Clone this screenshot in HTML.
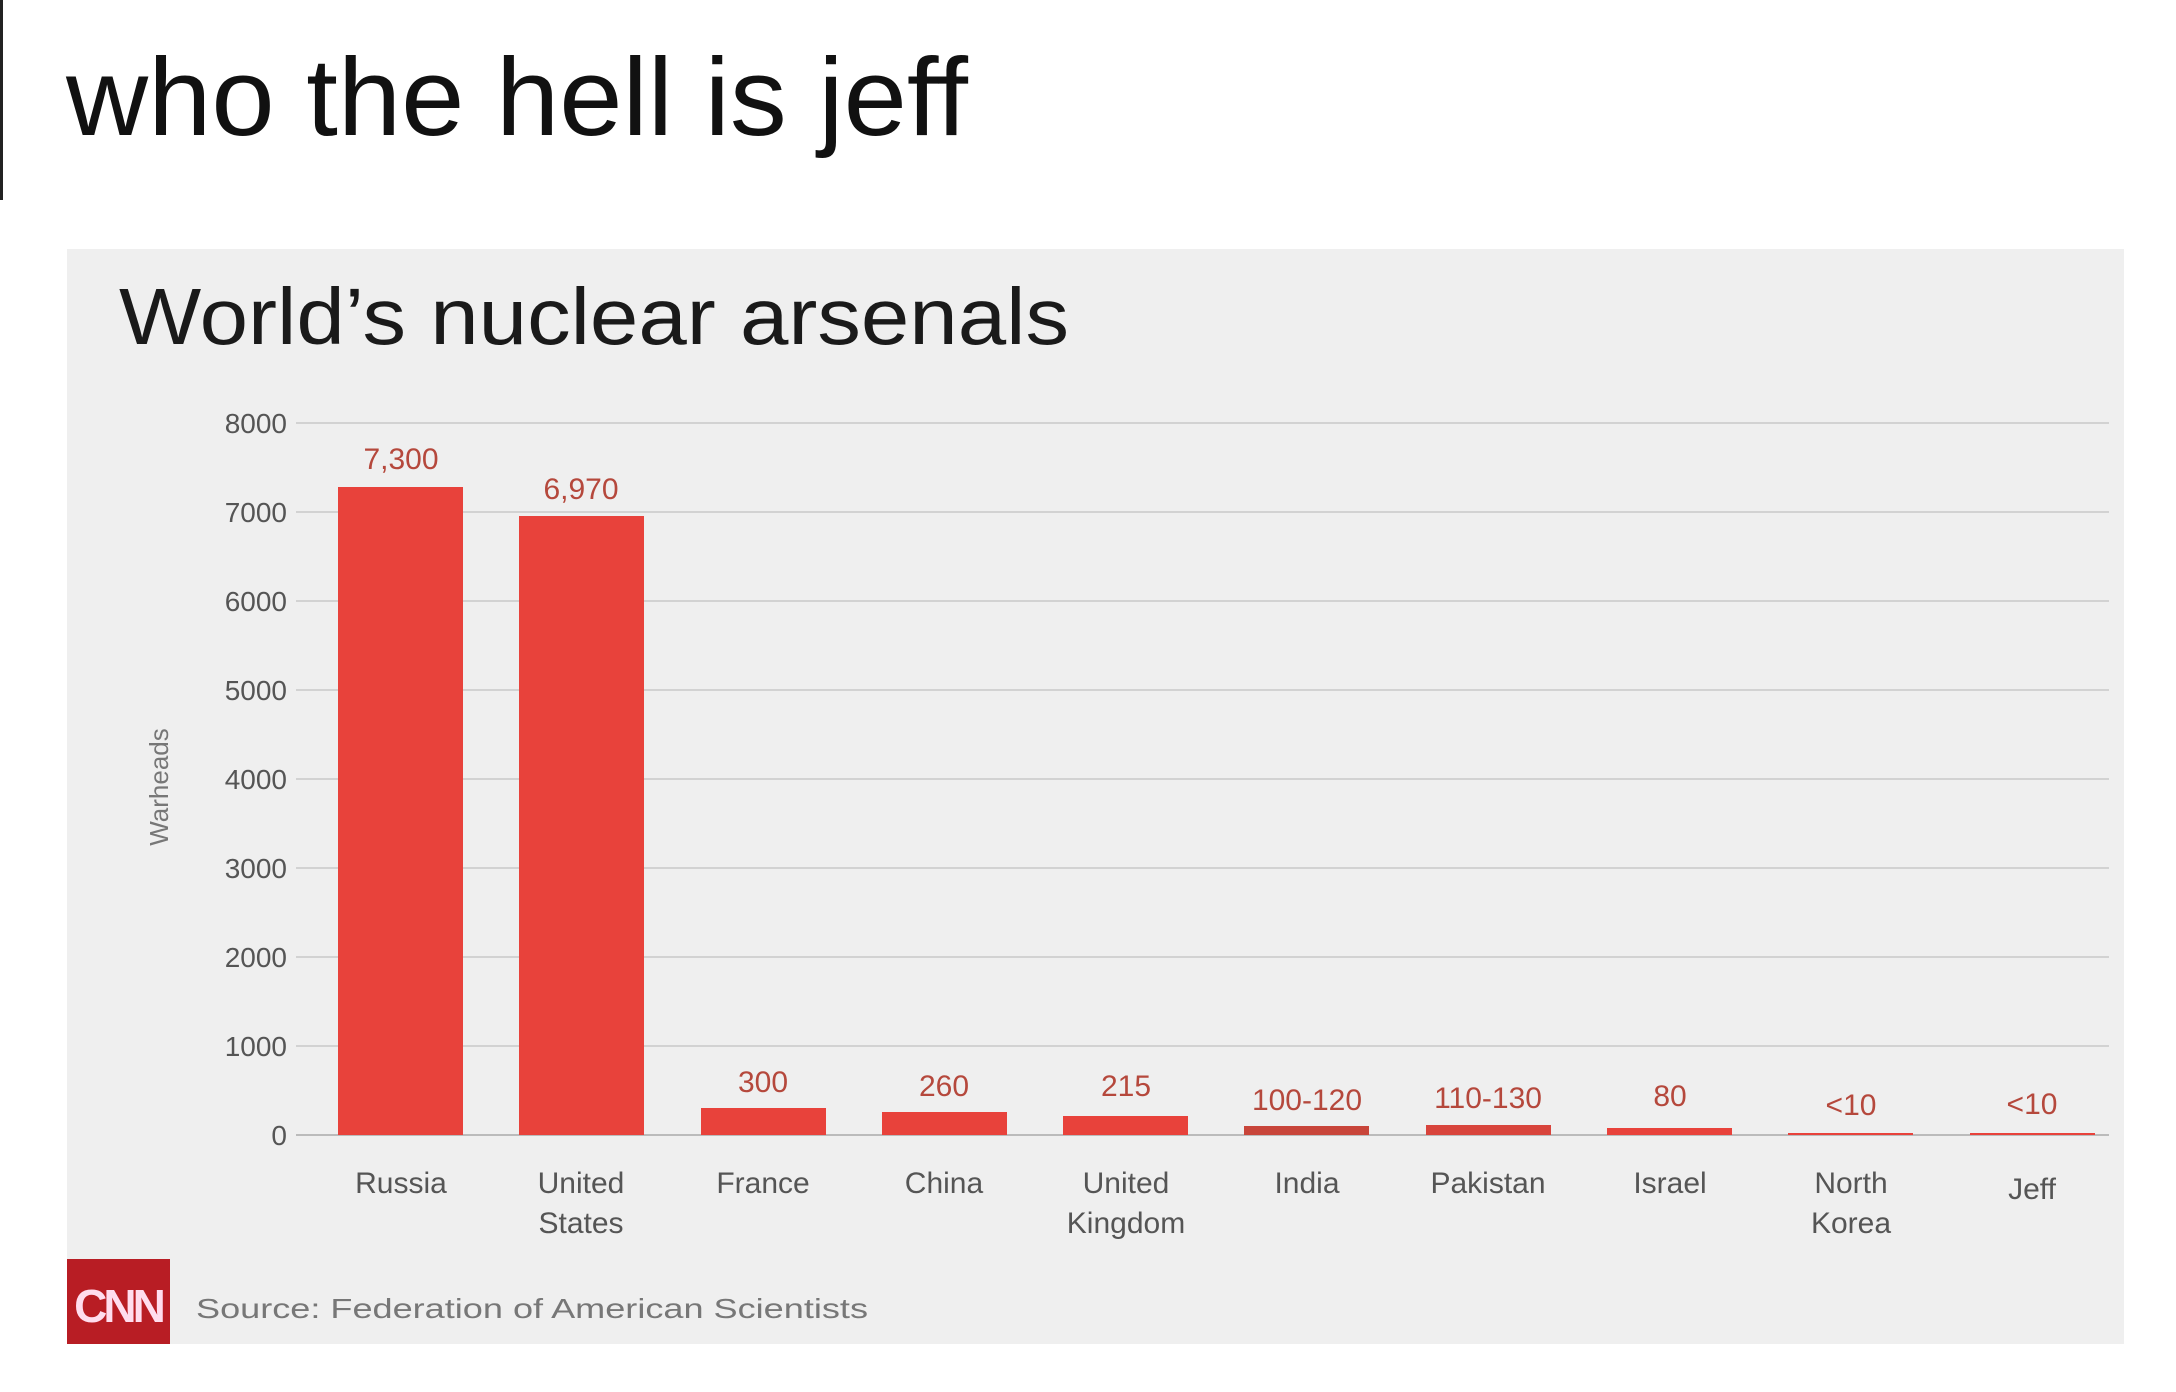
<!DOCTYPE html>
<html><head><meta charset="utf-8"><style>
html,body{margin:0;padding:0;background:#fff;}
svg{display:block;}
</style></head><body>
<svg width="2176" height="1392" viewBox="0 0 2176 1392" xmlns="http://www.w3.org/2000/svg" font-family="Liberation Sans, sans-serif">
<rect x="0" y="0" width="2176" height="1392" fill="#fff"/>
<rect x="0" y="0" width="3" height="200" fill="#222"/>
<text x="66" y="135" font-size="110" fill="#111" textLength="902" lengthAdjust="spacingAndGlyphs">who the hell is jeff</text>
<rect x="67" y="249" width="2057" height="1095" fill="#efefef"/>
<text x="119" y="344" font-size="80" fill="#1a1a1a" textLength="950" lengthAdjust="spacingAndGlyphs">World’s nuclear arsenals</text>
<g stroke="#d2d2d2" stroke-width="2">
<line x1="296" y1="423" x2="2109" y2="423"/>
<line x1="296" y1="512" x2="2109" y2="512"/>
<line x1="296" y1="601" x2="2109" y2="601"/>
<line x1="296" y1="690" x2="2109" y2="690"/>
<line x1="296" y1="779" x2="2109" y2="779"/>
<line x1="296" y1="868" x2="2109" y2="868"/>
<line x1="296" y1="957" x2="2109" y2="957"/>
<line x1="296" y1="1046" x2="2109" y2="1046"/>
<line x1="296" y1="1135" x2="2109" y2="1135" stroke="#bbb"/>
</g>
<g font-size="28" fill="#555" text-anchor="end">
<text x="287" y="433">8000</text><text x="287" y="522">7000</text><text x="287" y="611">6000</text>
<text x="287" y="700">5000</text><text x="287" y="789">4000</text><text x="287" y="878">3000</text>
<text x="287" y="967">2000</text><text x="287" y="1056">1000</text><text x="287" y="1145">0</text>
</g>
<text transform="translate(168,787) rotate(-90)" font-size="26" fill="#777" text-anchor="middle">Warheads</text>
<g fill="#e8423b">
<rect x="338" y="487" width="125" height="648"/>
<rect x="519" y="516" width="125" height="619"/>
<rect x="701" y="1108" width="125" height="27"/>
<rect x="882" y="1112" width="125" height="23"/>
<rect x="1063" y="1116" width="125" height="19"/>
<rect x="1244" y="1126" width="125" height="9" fill="#c8453a"/>
<rect x="1426" y="1125" width="125" height="10" fill="#d8443c"/>
<rect x="1607" y="1128" width="125" height="7"/>
<rect x="1788" y="1133" width="125" height="2"/>
<rect x="1970" y="1133" width="125" height="2"/>
</g>
<g font-size="30" fill="#b5483c" text-anchor="middle">
<text x="401" y="469">7,300</text><text x="581" y="499">6,970</text>
<text x="763" y="1092">300</text><text x="944" y="1096">260</text>
<text x="1126" y="1096">215</text><text x="1307" y="1110">100-120</text>
<text x="1488" y="1108">110-130</text><text x="1670" y="1106">80</text>
<text x="1851" y="1115">&lt;10</text><text x="2032" y="1114">&lt;10</text>
</g>
<g font-size="30" fill="#555" text-anchor="middle">
<text x="401" y="1193">Russia</text>
<text x="581" y="1193">United</text><text x="581" y="1233">States</text>
<text x="763" y="1193">France</text>
<text x="944" y="1193">China</text>
<text x="1126" y="1193">United</text><text x="1126" y="1233">Kingdom</text>
<text x="1307" y="1193">India</text>
<text x="1488" y="1193">Pakistan</text>
<text x="1670" y="1193">Israel</text>
<text x="1851" y="1193">North</text><text x="1851" y="1233">Korea</text>
<text x="2032" y="1199">Jeff</text>
</g>
<rect x="67" y="1259" width="103" height="85" fill="#b81d24"/>
<text x="118" y="1322" font-size="46" font-weight="bold" fill="#fde" text-anchor="middle" letter-spacing="-4">CNN</text>
<text x="196" y="1318" font-size="28" fill="#777" textLength="672" lengthAdjust="spacingAndGlyphs">Source: Federation of American Scientists</text>
</svg>
</body></html>
